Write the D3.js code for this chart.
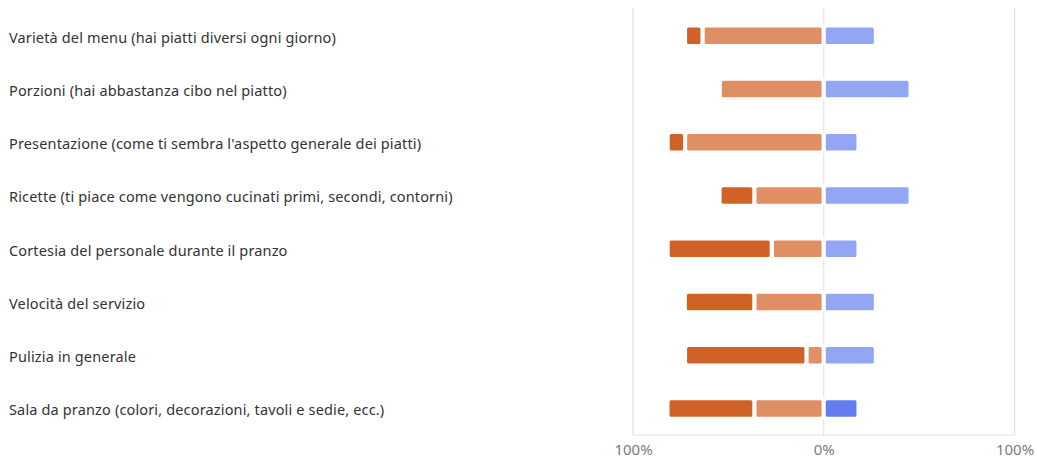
<!DOCTYPE html>
<html>
<head>
<meta charset="utf-8">
<script src="https://cdn.jsdelivr.net/npm/d3@7"></script>
<style>
  html, body { margin: 0; padding: 0; background: #fff; }
  svg { display: block; }
</style>
</head>
<body>
<svg id="chart" width="1037" height="459"></svg>
<script>
const categories = [
  "Varietà del menu (hai piatti diversi ogni giorno)",
  "Porzioni (hai abbastanza cibo nel piatto)",
  "Presentazione (come ti sembra l'aspetto generale dei piatti)",
  "Ricette (ti piace come vengono cucinati primi, secondi, contorni)",
  "Cortesia del personale durante il pranzo",
  "Velocità del servizio",
  "Pulizia in generale",
  "Sala da pranzo (colori, decorazioni, tavoli e sedie, ecc.)"
];
// percent of respondents per rating (negative side: strong, mild; positive side: mild, strong)
const veryNegative = [9.1, 0, 9.1, 18.2, 54.5, 36.4, 63.6, 45.5];
const negative     = [63.6, 54.5, 72.7, 36.4, 27.3, 36.4, 9.1, 36.4];
const positive     = [27.3, 45.5, 18.2, 45.5, 18.2, 27.3, 27.3, 0];
const veryPositive = [0, 0, 0, 0, 0, 0, 0, 18.2];
const tickValues = [-100, 0, 100];
const tickLabels = ["100%", "0%", "100%"];

const colors = {
  veryNegative: "#d06228",
  negative: "#e08e63",
  positive: "#93a6f4",
  veryPositive: "#637cf0"
};

const svg = d3.select("#chart");
const x = d3.scaleLinear().domain([-100, 100]).range([633, 1014.5]);
const y = d3.scaleBand().domain(categories).range([9, 435]).padding(0);

// grid
const grid = svg.append("g");
grid.selectAll("line.v").data(tickValues).enter().append("line")
  .attr("x1", d => x(d)).attr("x2", d => x(d))
  .attr("y1", 8).attr("y2", 435)
  .attr("stroke", "#e2e2e2").attr("stroke-width", 1.2);
grid.append("line")
  .attr("x1", x(-100)).attr("x2", x(100))
  .attr("y1", 435).attr("y2", 435)
  .attr("stroke", "#e2e2e2").attr("stroke-width", 1.2);

// build segments
const segs = [];
categories.forEach((c, i) => {
  const vn = veryNegative[i], n = negative[i], p = positive[i], vp = veryPositive[i];
  if (n > 0) segs.push({c, x0: -n, x1: 0, key: "negative"});
  if (vn > 0) segs.push({c, x0: -n - vn, x1: -n, key: "veryNegative"});
  if (p > 0) segs.push({c, x0: 0, x1: p, key: "positive"});
  if (vp > 0) segs.push({c, x0: p, x1: p + vp, key: "veryPositive"});
});

const barH = 20.5;
svg.append("g").selectAll("rect").data(segs).enter().append("rect")
  .attr("x", d => x(d.x0))
  .attr("width", d => x(d.x1) - x(d.x0))
  .attr("y", d => y(d.c) + y.bandwidth() / 2 - barH / 2)
  .attr("height", barH)
  .attr("rx", 3.5)
  .attr("fill", d => colors[d.key])
  .attr("stroke", "#fff")
  .attr("stroke-width", 4);

// category labels
svg.append("g").selectAll("text").data(categories).enter().append("text")
  .attr("x", 9)
  .attr("y", d => y(d) + y.bandwidth() / 2 + 2)
  .attr("dy", "0.35em")
  .attr("font-family", "'Noto Sans', 'Open Sans', sans-serif")
  .attr("font-size", 14.5)
  .attr("letter-spacing", 0.15)
  .attr("fill", "#333")
  .text(d => d);

// axis labels
const xAxis = d3.axisBottom(x).tickValues(tickValues)
  .tickFormat((d, i) => tickLabels[i]).tickSize(0).tickPadding(8);
const ax = svg.append("g").attr("transform", "translate(0,436)").call(xAxis);
ax.select(".domain").remove();
ax.selectAll("text")
  .attr("font-family", "'Noto Sans', 'Open Sans', sans-serif")
  .attr("font-size", 15)
  .attr("fill", "#7a7a7a");
</script>
</body>
</html>
